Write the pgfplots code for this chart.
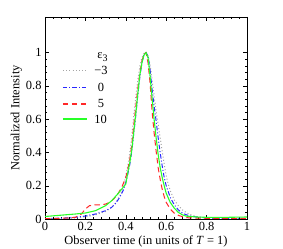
\documentclass[border=0pt]{standalone}
\usepackage{pgfplots}
\pgfplotsset{compat=1.18}
\usepackage{fontspec}
\setmainfont{Liberation Serif}
\definecolor{cgray}{RGB}{165,165,165}
\definecolor{cblue}{RGB}{40,40,255}
\definecolor{cred}{RGB}{255,40,40}
\definecolor{cgreen}{RGB}{40,255,40}
\tikzset{
  sgray/.style={color=cgray, draw=cgray, dash pattern=on 1bp off 2.2bp, line width=1pt},
  sblue/.style={color=cblue, draw=cblue, dash pattern=on 4.5bp off 2bp on 1bp off 2bp, line width=1pt},
  sred/.style={color=cred, draw=cred, dash pattern=on 5.5bp off 3.5bp, line width=1pt},
  sgreen/.style={color=cgreen, draw=cgreen, solid, line width=1.1pt},
}
\begin{document}
\begin{tikzpicture}[font=\fontsize{12.5}{14}\selectfont]
\useasboundingbox (0,0) rectangle (283bp,249bp);
\begin{axis}[
  at={(45bp,30bp)}, anchor=south west,
  scale only axis, width=202bp, height=202bp,
  xmin=0, xmax=1, ymin=0, ymax=1.214,
  xtick={0,0.2,...,1}, ytick={0,0.2,...,1},
  minor tick num=4,
  tick align=inside,
  major tick length=4bp, minor tick length=2bp,
  axis line style={line width=0.6pt},
  every tick/.style={black, line width=0.4pt},
  /pgf/number format/assume math mode=true,
  ticklabel style={font=\fontsize{12.5}{14}\selectfont},
  xlabel={Observer time (in units of \textit{T} = 1)},
  ylabel={Normalized Intensity},
  xlabel style={yshift=2bp},
  ylabel style={yshift=-3bp},
]
% data
\addplot[sgray] coordinates {
(0,0.0) (0.1,0.002) (0.15,0.006) (0.2,0.012) (0.25,0.025) (0.3,0.045) (0.33,0.07) (0.35,0.095)
(0.37,0.14) (0.38,0.17) (0.39,0.21) (0.40,0.26) (0.41,0.32) (0.42,0.40) (0.43,0.50) (0.44,0.63)
(0.45,0.74) (0.46,0.84) (0.47,0.92) (0.48,0.97) (0.49,0.995) (0.50,1.0) (0.51,0.985) (0.52,0.93)
(0.53,0.84) (0.54,0.74) (0.55,0.65) (0.56,0.57) (0.57,0.49) (0.58,0.41) (0.59,0.33) (0.60,0.26)
(0.61,0.21) (0.62,0.17) (0.64,0.115) (0.66,0.08) (0.68,0.055) (0.70,0.038) (0.72,0.026)
(0.75,0.015) (0.8,0.006) (0.85,0.002) (0.9,0.001) (1.0,0.001)};
\addplot[sblue] coordinates {
(0,0.002) (0.1,0.006) (0.15,0.01) (0.2,0.018) (0.25,0.03) (0.3,0.05) (0.33,0.07) (0.35,0.095)
(0.37,0.13) (0.39,0.18) (0.40,0.22) (0.41,0.27) (0.42,0.33) (0.43,0.41) (0.44,0.52) (0.45,0.63)
(0.46,0.75) (0.47,0.86) (0.48,0.94) (0.49,0.99) (0.50,1.0) (0.51,0.98) (0.52,0.90) (0.53,0.78)
(0.54,0.68) (0.55,0.59) (0.56,0.49) (0.57,0.40) (0.58,0.32) (0.59,0.25) (0.60,0.20) (0.62,0.13)
(0.64,0.085) (0.66,0.055) (0.68,0.035) (0.70,0.025) (0.72,0.018) (0.75,0.012) (0.8,0.006)
(0.9,0.004) (1.0,0.004)};
\addplot[sred] coordinates {
(0,0.003) (0.05,0.003) (0.1,0.005) (0.15,0.01) (0.18,0.03) (0.2,0.06) (0.22,0.08) (0.25,0.085)
(0.28,0.085) (0.30,0.09) (0.32,0.1) (0.34,0.12) (0.36,0.15) (0.38,0.19) (0.40,0.25) (0.41,0.3)
(0.42,0.36) (0.43,0.45) (0.44,0.57) (0.45,0.68) (0.46,0.79) (0.47,0.88) (0.48,0.95) (0.49,0.99)
(0.50,1.0) (0.51,0.94) (0.52,0.82) (0.53,0.65) (0.54,0.52) (0.55,0.41) (0.56,0.31) (0.57,0.24)
(0.58,0.18) (0.59,0.135) (0.60,0.10) (0.62,0.06) (0.64,0.035) (0.66,0.022) (0.68,0.014)
(0.70,0.008) (0.75,0.005) (0.8,0.004) (0.9,0.003) (1.0,0.003)};
\addplot[sgreen] coordinates {
(0,0.015) (0.05,0.02) (0.1,0.025) (0.15,0.03) (0.2,0.036) (0.25,0.05) (0.3,0.08) (0.33,0.11)
(0.36,0.15) (0.38,0.18) (0.40,0.21) (0.41,0.28) (0.42,0.34) (0.43,0.42) (0.44,0.53) (0.45,0.64)
(0.46,0.76) (0.47,0.87) (0.48,0.94) (0.49,0.985) (0.50,1.0) (0.51,0.97) (0.52,0.86) (0.53,0.73)
(0.54,0.60) (0.55,0.49) (0.56,0.39) (0.57,0.31) (0.58,0.25) (0.59,0.2) (0.60,0.155) (0.62,0.10)
(0.64,0.065) (0.66,0.04) (0.68,0.025) (0.70,0.017) (0.75,0.012) (0.8,0.01) (0.9,0.01) (1.0,0.012)};
% legend samples, drawn through the axis
\addplot[sgray, line width=1.5pt, forget plot] coordinates {(0.089,0.892) (0.15,0.892) (0.208,0.892)};
\addplot[sblue, line width=1.5pt, forget plot] coordinates {(0.089,0.790) (0.15,0.790) (0.208,0.790)};
\addplot[sred, line width=1.5pt, forget plot] coordinates {(0.089,0.692) (0.15,0.692) (0.208,0.692)};
\addplot[sgreen, line width=1.5pt, forget plot] coordinates {(0.089,0.600) (0.15,0.600) (0.208,0.600)};
\node[anchor=center] at (axis cs:0.277,0.892) {−3};
\node[anchor=center] at (axis cs:0.277,0.790) {0};
\node[anchor=center] at (axis cs:0.277,0.692) {5};
\node[anchor=center] at (axis cs:0.275,0.600) {10};
\node[anchor=center] at (axis cs:0.285,0.975) {ε\raisebox{-0.5ex}{\fontsize{10}{11}\selectfont 3}};
\end{axis}
\end{tikzpicture}
\end{document}
